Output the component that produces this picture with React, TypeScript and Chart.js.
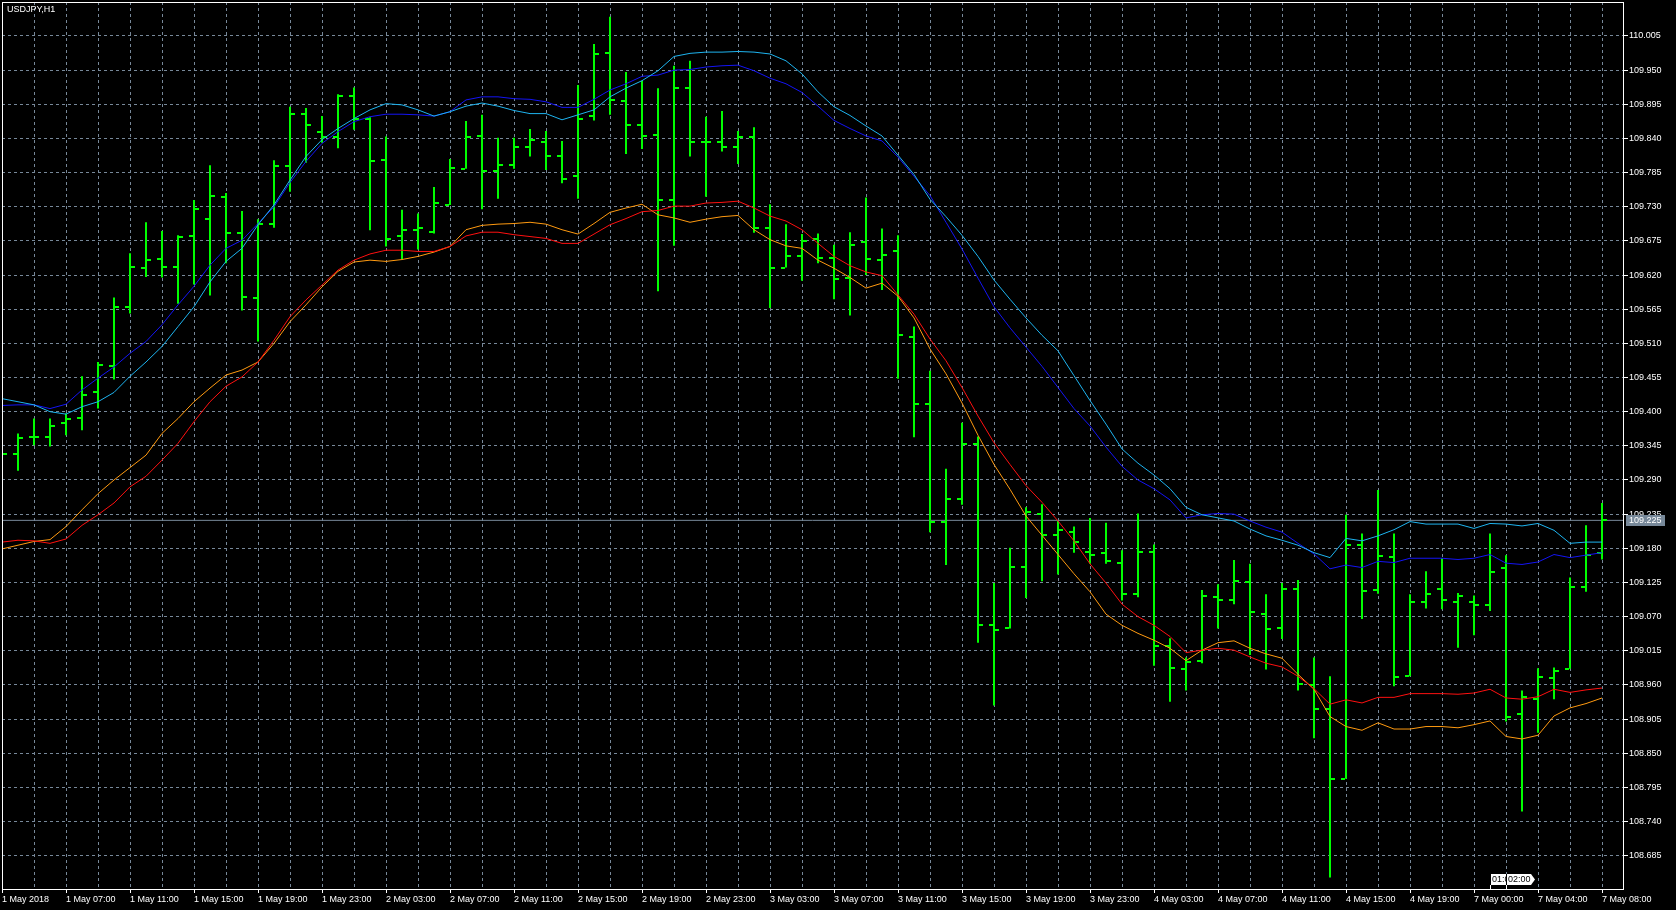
import React, { useEffect, useRef } from 'react';
import { Chart, registerables } from 'chart.js';

Chart.register(...registerables);

const symbolTitle = 'USDJPY,H1';

const xTickLabels = [
  '1 May 2018', '1 May 07:00', '1 May 11:00', '1 May 15:00', '1 May 19:00', '1 May 23:00',
  '2 May 03:00', '2 May 07:00', '2 May 11:00', '2 May 15:00', '2 May 19:00', '2 May 23:00',
  '3 May 03:00', '3 May 07:00', '3 May 11:00', '3 May 15:00', '3 May 19:00', '3 May 23:00',
  '4 May 03:00', '4 May 07:00', '4 May 11:00', '4 May 15:00', '4 May 19:00',
  '7 May 00:00', '7 May 04:00', '7 May 08:00',
];

const yTickValues = [
  108.685, 108.740, 108.795, 108.850, 108.905, 108.960, 109.015, 109.070, 109.125,
  109.180, 109.235, 109.290, 109.345, 109.400, 109.455, 109.510, 109.565, 109.620,
  109.675, 109.730, 109.785, 109.840, 109.895, 109.950, 110.005,
];

const bidPrice = 109.225;

const timeMarkerBars = [93, 94];
const timeMarkerTexts = ['01:00', '02:00'];

const opens = [
  109.345, 109.332, 109.359, 109.359, 109.381, 109.390, 109.431, 109.474, 109.568, 109.632,
  109.646, 109.633, 109.683, 109.711, 109.746, 109.687, 109.583, 109.703, 109.796, 109.879,
  109.850, 109.843, 109.908, 109.872, 109.805, 109.683, 109.692, 109.690, 109.733, 109.791,
  109.844, 109.788, 109.798, 109.826, 109.835, 109.812, 109.780, 109.876, 109.977, 109.901,
  109.862, 109.846, 109.741, 109.921, 109.834, 109.834, 109.827, 109.843, 109.695, 109.632,
  109.651, 109.678, 109.648, 109.616, 109.674, 109.645, 109.658, 109.520, 109.412, 109.223,
  109.259, 109.348, 109.057, 109.051, 109.150, 109.236, 109.202, 109.207, 109.174, 109.172,
  109.157, 109.106, 109.174, 109.022, 108.986, 108.999, 109.102, 109.096, 109.125, 109.074,
  109.052, 109.115, 108.960, 108.922, 108.809, 109.185, 109.113, 109.166, 108.974, 109.094,
  109.115, 109.094, 109.094, 109.088, 109.149, 108.913, 108.938, 108.971, 108.986, 109.118,
  109.173,
];

const highs = [
  109.352, 109.365, 109.389, 109.389, 109.397, 109.457, 109.480, 109.584, 109.655, 109.705,
  109.691, 109.684, 109.741, 109.797, 109.752, 109.723, 109.710, 109.805, 109.891, 109.889,
  109.876, 109.911, 109.922, 109.874, 109.843, 109.725, 109.719, 109.762, 109.807, 109.868,
  109.878, 109.841, 109.841, 109.855, 109.852, 109.836, 109.926, 109.992, 110.036, 109.947,
  109.933, 109.921, 109.957, 109.965, 109.875, 109.884, 109.852, 109.858, 109.734, 109.702,
  109.686, 109.687, 109.669, 109.689, 109.745, 109.695, 109.684, 109.537, 109.466, 109.308,
  109.382, 109.360, 109.124, 109.181, 109.246, 109.251, 109.224, 109.215, 109.229, 109.221,
  109.177, 109.236, 109.186, 109.035, 109.004, 109.113, 109.122, 109.161, 109.155, 109.106,
  109.124, 109.129, 109.004, 108.974, 109.234, 109.204, 109.274, 109.204, 109.106, 109.143,
  109.164, 109.108, 109.104, 109.204, 109.169, 108.951, 108.987, 108.988, 109.133, 109.217,
  109.253,
];

const lows = [
  109.318, 109.305, 109.346, 109.344, 109.362, 109.370, 109.405, 109.452, 109.558, 109.617,
  109.616, 109.574, 109.605, 109.587, 109.639, 109.563, 109.513, 109.696, 109.754, 109.801,
  109.833, 109.824, 109.854, 109.692, 109.666, 109.646, 109.661, 109.687, 109.733, 109.791,
  109.726, 109.743, 109.791, 109.811, 109.789, 109.768, 109.743, 109.869, 109.878, 109.815,
  109.823, 109.594, 109.667, 109.811, 109.746, 109.819, 109.799, 109.688, 109.567, 109.632,
  109.611, 109.639, 109.581, 109.555, 109.620, 109.596, 109.453, 109.359, 109.206, 109.153,
  109.250, 109.028, 108.927, 109.051, 109.100, 109.127, 109.138, 109.173, 109.155, 109.155,
  109.096, 109.101, 108.991, 108.933, 108.951, 108.995, 109.051, 109.090, 109.008, 108.985,
  109.034, 108.951, 108.874, 108.650, 108.809, 109.066, 109.107, 108.958, 108.974, 109.083,
  109.082, 109.020, 109.040, 109.079, 108.901, 108.756, 108.883, 108.937, 108.986, 109.110,
  109.162,
];

const closes = [
  109.332, 109.358, 109.359, 109.377, 109.389, 109.427, 109.475, 109.568, 109.633, 109.644,
  109.633, 109.682, 109.727, 109.747, 109.687, 109.585, 109.703, 109.796, 109.879, 109.862,
  109.843, 109.908, 109.871, 109.804, 109.678, 109.693, 109.696, 109.736, 109.792, 109.843,
  109.787, 109.798, 109.826, 109.838, 109.812, 109.775, 109.872, 109.976, 109.902, 109.862,
  109.844, 109.741, 109.921, 109.834, 109.834, 109.827, 109.842, 109.695, 109.632, 109.651,
  109.675, 109.648, 109.614, 109.669, 109.646, 109.653, 109.523, 109.412, 109.223, 109.259,
  109.348, 109.057, 109.049, 109.150, 109.238, 109.202, 109.210, 109.190, 109.169, 109.160,
  109.106, 109.174, 109.023, 108.988, 108.997, 109.104, 109.096, 109.128, 109.078, 109.050,
  109.115, 108.961, 108.921, 108.808, 109.185, 109.112, 109.168, 108.973, 109.094, 109.106,
  109.096, 109.104, 109.088, 109.142, 108.909, 108.940, 108.972, 108.983, 109.118, 109.169,
  109.225,
];

const maCyan = [
  109.421, 109.416, 109.411, 109.400, 109.396, 109.408, 109.416, 109.431, 109.457, 109.480,
  109.505, 109.537, 109.569, 109.609, 109.642, 109.663, 109.701, 109.733, 109.773, 109.811,
  109.838, 109.856, 109.872, 109.886, 109.896, 109.894, 109.886, 109.876, 109.883, 109.892,
  109.897, 109.892, 109.885, 109.880, 109.880, 109.870, 109.878, 109.886, 109.907, 109.921,
  109.933, 109.949, 109.972, 109.977, 109.979, 109.979, 109.980, 109.979, 109.976, 109.965,
  109.944, 109.915, 109.891, 109.877, 109.860, 109.844, 109.813, 109.782, 109.742, 109.714,
  109.684, 109.650, 109.612, 109.581, 109.551, 109.523, 109.498, 109.458, 109.418, 109.380,
  109.340, 109.317, 109.298, 109.276, 109.246, 109.234, 109.229, 109.224, 109.211, 109.200,
  109.193, 109.185, 109.173, 109.165, 109.196, 109.192, 109.200, 109.210, 109.223, 109.219,
  109.219, 109.219, 109.212, 109.220, 109.219, 109.216, 109.220, 109.209, 109.188, 109.190,
  109.190,
];

const maBlue = [
  109.410, 109.411, 109.411, 109.405, 109.412, 109.435, 109.454, 109.472, 109.494, 109.513,
  109.540, 109.572, 109.602, 109.636, 109.663, 109.676, 109.703, 109.730, 109.769, 109.803,
  109.832, 109.851, 109.867, 109.875, 109.879, 109.879, 109.878, 109.876, 109.883, 109.902,
  109.907, 109.907, 109.904, 109.903, 109.899, 109.890, 109.890, 109.903, 109.918, 109.928,
  109.940, 109.942, 109.950, 109.951, 109.955, 109.957, 109.958, 109.949, 109.937, 109.928,
  109.914, 109.892, 109.869, 109.856, 109.844, 109.836, 109.810, 109.779, 109.748, 109.705,
  109.662, 109.615, 109.569, 109.535, 109.504, 109.473, 109.439, 109.405, 109.377, 109.343,
  109.312, 109.290, 109.276, 109.258, 109.229, 109.234, 109.236, 109.235, 109.224, 109.214,
  109.206, 109.188, 109.171, 109.147, 109.153, 109.149, 109.159, 109.157, 109.164, 109.164,
  109.164, 109.162, 109.164, 109.170, 109.156, 109.154, 109.158, 109.170, 109.165, 109.169,
  109.173,
];

const maRed = [
  109.190, 109.193, 109.192, 109.188, 109.195, 109.217, 109.234, 109.253, 109.279, 109.296,
  109.322, 109.349, 109.384, 109.416, 109.441, 109.456, 109.480, 109.515, 109.553, 109.580,
  109.604, 109.628, 109.644, 109.654, 109.660, 109.660, 109.658, 109.658, 109.666, 109.683,
  109.689, 109.689, 109.685, 109.682, 109.679, 109.671, 109.671, 109.686, 109.701, 109.711,
  109.722, 109.724, 109.731, 109.731, 109.736, 109.737, 109.739, 109.728, 109.715, 109.707,
  109.693, 109.671, 109.650, 109.635, 109.625, 109.619, 109.588, 109.557, 109.517, 109.482,
  109.439, 109.393, 109.350, 109.315, 109.281, 109.254, 109.224, 109.192, 109.155, 109.124,
  109.090, 109.070, 109.056, 109.038, 109.012, 109.016, 109.019, 109.016, 109.005, 108.995,
  108.989, 108.974, 108.954, 108.929, 108.936, 108.931, 108.940, 108.940, 108.946, 108.946,
  108.946, 108.945, 108.947, 108.953, 108.939, 108.937, 108.941, 108.953, 108.948, 108.952,
  108.955,
];

const maOrange = [
  109.179, 109.185, 109.191, 109.194, 109.215, 109.242, 109.268, 109.290, 109.310, 109.330,
  109.365, 109.389, 109.416, 109.438, 109.459, 109.467, 109.480, 109.510, 109.545, 109.572,
  109.601, 109.626, 109.641, 109.644, 109.642, 109.645, 109.650, 109.657, 109.666, 109.693,
  109.700, 109.702, 109.703, 109.705, 109.702, 109.693, 109.686, 109.703, 109.721, 109.728,
  109.734, 109.717, 109.712, 109.705, 109.710, 109.714, 109.716, 109.693, 109.677, 109.667,
  109.663, 109.644, 109.631, 109.616, 109.599, 109.607, 109.586, 109.551, 109.501, 109.461,
  109.414, 109.362, 109.315, 109.275, 109.232, 109.201, 109.170, 109.139, 109.110, 109.074,
  109.056, 109.043, 109.032, 109.019, 108.999, 109.016, 109.028, 109.031, 109.019, 109.010,
  109.003, 108.977, 108.953, 108.909, 108.893, 108.887, 108.899, 108.889, 108.889, 108.893,
  108.893, 108.891, 108.896, 108.902, 108.877, 108.873, 108.879, 108.910, 108.923, 108.930,
  108.939,
];

const X_MIN = 0;
const X_MAX = 101.3125;
const Y_MIN = 108.6314;
const Y_MAX = 110.0597;

const FONT_FAMILY = '"Liberation Sans", Arial, sans-serif';
const GRID_COLOR = '#778899';
const BAR_COLOR = '#00FF00';

function makeTickImage(side: 'left' | 'right'): HTMLCanvasElement {
  const c = document.createElement('canvas');
  c.width = 10;
  c.height = 2;
  const g = c.getContext('2d')!;
  g.fillStyle = BAR_COLOR;
  if (side === 'left') g.fillRect(0, 0, 4, 2);
  else g.fillRect(6, 0, 4, 2);
  return c;
}

const toPoints = (arr: number[]) => arr.map((v, i) => ({ x: i, y: v }));

export default function App() {
  const ref = useRef<HTMLCanvasElement>(null);

  useEffect(() => {
    document.body.style.margin = '0';
    document.body.style.background = '#000';
    const canvas = ref.current!;
    const openImg = makeTickImage('left');
    const closeImg = makeTickImage('right');

    const decorPlugin = {
      id: 'mtDecor',
      beforeDraw(chart: any) {
        const ctx = chart.ctx;
        ctx.save();
        ctx.fillStyle = '#000';
        ctx.fillRect(0, 0, chart.width, chart.height);
        ctx.restore();
      },
      afterDraw(chart: any) {
        const ctx = chart.ctx;
        const a = chart.chartArea;
        const xs = chart.scales.x;
        const ys = chart.scales.y;
        ctx.save();
        // frame
        ctx.strokeStyle = '#FFFFFF';
        ctx.lineWidth = 1;
        ctx.strokeRect(a.left + 0.5, a.top + 0.5, a.right - a.left, a.bottom - a.top);
        // title
        ctx.font = `9px ${FONT_FAMILY}`;
        ctx.fillStyle = '#FFFFFF';
        ctx.textBaseline = 'middle';
        ctx.textAlign = 'left';
        ctx.fillText(symbolTitle, 7, 10);
        // bid label
        const by = Math.round(ys.getPixelForValue(bidPrice));
        ctx.fillStyle = GRID_COLOR;
        ctx.fillRect(a.right + 3, by - 5, 39, 11);
        ctx.fillStyle = '#FFFFFF';
        ctx.fillText(bidPrice.toFixed(3), a.right + 6, by + 0.5);
        // time markers
        timeMarkerBars.forEach((bar, k) => {
          const x = Math.round(xs.getPixelForValue(bar));
          const top = a.bottom - 15;
          const h = 11;
          const w = 25;
          ctx.fillStyle = '#FFFFFF';
          ctx.beginPath();
          ctx.moveTo(x, top);
          ctx.lineTo(x + w, top);
          ctx.lineTo(x + w + 4, top + h / 2);
          ctx.lineTo(x + w, top + h);
          ctx.lineTo(x, top + h);
          ctx.closePath();
          ctx.fill();
          ctx.strokeStyle = '#000';
          ctx.beginPath();
          ctx.moveTo(x + 0.5, top);
          ctx.lineTo(x + 0.5, top + h);
          ctx.stroke();
          ctx.strokeStyle = '#FFFFFF';
          ctx.beginPath();
          ctx.moveTo(x + 0.5, top + h);
          ctx.lineTo(x + 0.5, a.bottom);
          ctx.stroke();
          ctx.fillStyle = '#000';
          ctx.fillText(timeMarkerTexts[k], x + 2, top + h / 2 + 0.5);
        });
        ctx.restore();
      },
    };

    const chart = new Chart(canvas, {
      type: 'bar',
      data: {
        datasets: [
          {
            type: 'line',
            label: 'Cyan MA',
            data: toPoints(maCyan),
            borderColor: '#1EB4F0',
            borderWidth: 1,
            pointRadius: 0,
            tension: 0,
            order: 0,
          } as any,
          {
            type: 'line',
            label: 'Blue MA',
            data: toPoints(maBlue),
            borderColor: '#1414F5',
            borderWidth: 1,
            pointRadius: 0,
            tension: 0,
            order: 0,
          } as any,
          {
            type: 'line',
            label: 'Red MA',
            data: toPoints(maRed),
            borderColor: '#FF1010',
            borderWidth: 1,
            pointRadius: 0,
            tension: 0,
            order: 0,
          } as any,
          {
            type: 'line',
            label: 'Orange MA',
            data: toPoints(maOrange),
            borderColor: '#FF9A10',
            borderWidth: 1,
            pointRadius: 0,
            tension: 0,
            order: 0,
          } as any,
          {
            type: 'line',
            label: 'Open',
            data: toPoints(opens),
            showLine: false,
            pointStyle: openImg,
            pointRadius: 1,
            pointHoverRadius: 1,
            order: 1,
          } as any,
          {
            type: 'line',
            label: 'Close',
            data: toPoints(closes),
            showLine: false,
            pointStyle: closeImg,
            pointRadius: 1,
            pointHoverRadius: 1,
            order: 1,
          } as any,
          {
            type: 'bar',
            label: 'High-Low',
            data: highs.map((h, i) => ({ x: i, y: [lows[i], h] })),
            backgroundColor: BAR_COLOR,
            borderWidth: 0,
            barThickness: 2,
            inflateAmount: 0,
            order: 2,
          } as any,
          {
            type: 'line',
            label: 'Bid',
            data: [
              { x: X_MIN, y: bidPrice },
              { x: X_MAX, y: bidPrice },
            ],
            borderColor: GRID_COLOR,
            borderWidth: 1,
            pointRadius: 0,
            order: 3,
          } as any,
        ],
      },
      options: {
        responsive: false,
        devicePixelRatio: 1,
        animation: false,
        events: [],
        layout: { padding: { left: 2, top: 2, right: 0, bottom: 0 } },
        plugins: { legend: { display: false }, tooltip: { enabled: false } },
        scales: {
          x: {
            type: 'linear',
            min: X_MIN,
            max: X_MAX,
            offset: false,
            afterBuildTicks: (s: any) => {
              const t = [];
              for (let v = 0; v <= 100; v += 2) t.push({ value: v });
              s.ticks = t;
            },
            afterFit: (s: any) => {
              s.height = 21;
              s.paddingLeft = 0;
              s.paddingRight = 0;
            },
            ticks: {
              autoSkip: false,
              maxRotation: 0,
              minRotation: 0,
              align: 'start',
              padding: 1,
              color: '#FFFFFF',
              font: { family: FONT_FAMILY, size: 9 },
              callback: (v: any) => (Number(v) % 4 === 0 ? xTickLabels[Number(v) / 4] : ''),
            },
            grid: {
              offset: false,
              lineWidth: 1,
              color: (c: any) => (c.tick && c.tick.value === 0 ? 'rgba(0,0,0,0)' : GRID_COLOR),
              tickColor: (c: any) => (c.tick && c.tick.value % 4 === 0 ? '#FFFFFF' : 'rgba(0,0,0,0)'),
              tickLength: 4,
              tickBorderDash: [],
            },
            border: { display: false, dash: [3, 3] },
          } as any,
          y: {
            type: 'linear',
            position: 'right',
            min: Y_MIN,
            max: Y_MAX,
            beginAtZero: false,
            afterBuildTicks: (s: any) => {
              s.ticks = yTickValues.map((v) => ({ value: v }));
            },
            afterFit: (s: any) => {
              s.width = 53;
              s.paddingTop = 0;
              s.paddingBottom = 0;
            },
            ticks: {
              autoSkip: false,
              padding: 1,
              color: '#FFFFFF',
              font: { family: FONT_FAMILY, size: 9 },
              callback: (v: any) => Number(v).toFixed(3),
            },
            grid: {
              color: GRID_COLOR,
              lineWidth: 1,
              tickColor: '#FFFFFF',
              tickLength: 5,
              tickBorderDash: [],
            },
            border: { display: false, dash: [3, 3] },
          } as any,
        },
      },
      plugins: [decorPlugin],
    } as any);

    return () => chart.destroy();
  }, []);

  return (
    <div style={{ position: 'fixed', left: 0, top: 0, width: 1676, height: 910, background: '#000' }}>
      <canvas ref={ref} width={1676} height={910} style={{ display: 'block', width: 1676, height: 910 }} />
    </div>
  );
}
